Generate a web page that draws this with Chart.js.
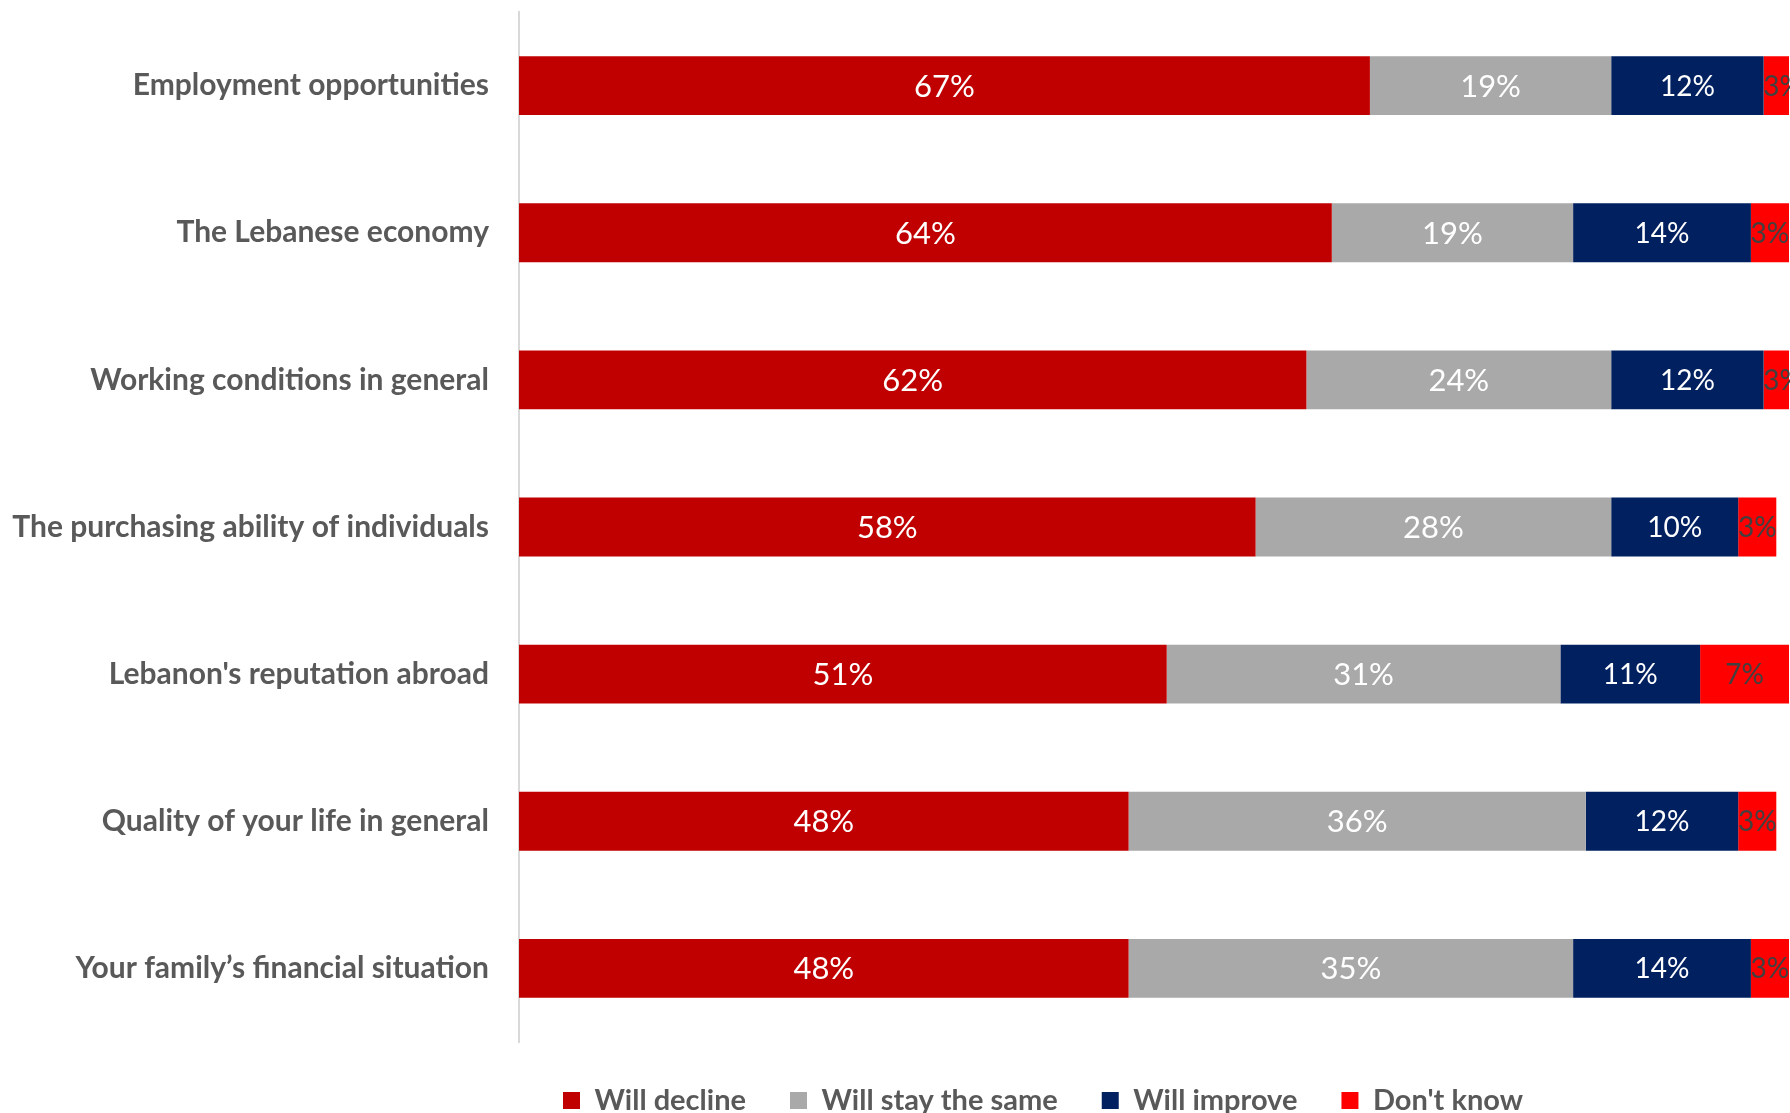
<!DOCTYPE html>
<html>
<head>
<meta charset="utf-8">
<title>Expectations</title>
<script src="https://cdn.jsdelivr.net/npm/chart.js@4.4.1/dist/chart.umd.min.js"></script>
<style>
  html, body { margin: 0; padding: 0; background: #fff; }
  #wrap { width: 1790px; height: 1113px; }
</style>
</head>
<body>
<div id="wrap"><canvas id="outlookChart" width="1790" height="1113"></canvas></div>
<script>
// categories, top to bottom
const topics = [
  "Employment opportunities",
  "The Lebanese economy",
  "Working conditions in general",
  "The purchasing ability of individuals",
  "Lebanon's reputation abroad",
  "Quality of your life in general",
  "Your family\u2019s financial situation"
];

// answer shares in percent
const willDecline = [67, 64, 62, 58, 51, 48, 48];
const willStaySame = [19, 19, 24, 28, 31, 36, 35];
const willImprove = [12, 14, 12, 10, 11, 12, 14];
const dontKnow = [3, 3, 3, 3, 7, 3, 3];

const seriesNames = ["Will decline", "Will stay the same", "Will improve", "Don't know"];
const seriesColors = ["#C00000", "#A9A9A9", "#002060", "#FF0000"];
const valueColors = ["#FFFFFF", "#FFFFFF", "#FFFFFF", "#404040"];
const valueSizes = [31, 31, 28, 28];

const FONT = "Lato, 'Open Sans', sans-serif";

// writes the percentage in the middle of every segment
const segmentLabels = {
  id: 'segmentLabels',
  afterDatasetsDraw(chart) {
    const ctx = chart.ctx;
    ctx.save();
    ctx.textAlign = 'center';
    ctx.textBaseline = 'middle';
    chart.data.datasets.forEach((ds, i) => {
      const meta = chart.getDatasetMeta(i);
      ctx.fillStyle = valueColors[i];
      ctx.font = valueSizes[i] + 'px ' + FONT;
      meta.data.forEach((bar, j) => {
        const cx = (bar.x + bar.base) / 2;
        ctx.fillText(ds.data[j] + '%', cx, bar.y + 1);
      });
    });
    ctx.restore();
  }
};

const sets = [willDecline, willStaySame, willImprove, dontKnow].map((vals, i) => ({
  label: seriesNames[i],
  data: vals,
  backgroundColor: seriesColors[i],
  borderWidth: 0,
  categoryPercentage: 0.8,
  barPercentage: 0.5
}));

new Chart(document.getElementById('outlookChart'), {
  type: 'bar',
  data: { labels: topics, datasets: sets },
  plugins: [segmentLabels],
  options: {
    indexAxis: 'y',
    responsive: false,
    animation: false,
    devicePixelRatio: 1,
    layout: { padding: { top: 12, right: 1, bottom: 0, left: 0 } },
    scales: {
      x: { stacked: true, min: 0, max: 100, display: false },
      y: {
        stacked: true,
        grid: { display: false, drawTicks: false },
        border: { display: true, color: '#D9D9D9', width: 2 },
        ticks: {
          padding: 30,
          color: '#595959',
          font: { family: FONT, size: 30, weight: 'bold' }
        },
        afterFit(scale) {
          // fixed label column, no extra room above/below the bars
          scale.width = 519;
          scale.paddingTop = 0;
          scale.paddingBottom = 0;
        }
      }
    },
    plugins: {
      tooltip: { enabled: false },
      legend: {
        position: 'bottom',
        align: 'start',
        fullSize: false,
        maxHeight: 71,
        labels: {
          boxWidth: 17,
          boxHeight: 17,
          padding: 44,
          color: '#595959',
          font: { family: FONT, size: 29, weight: 'bold' }
        }
      }
    }
  }
});
</script>
</body>
</html>
